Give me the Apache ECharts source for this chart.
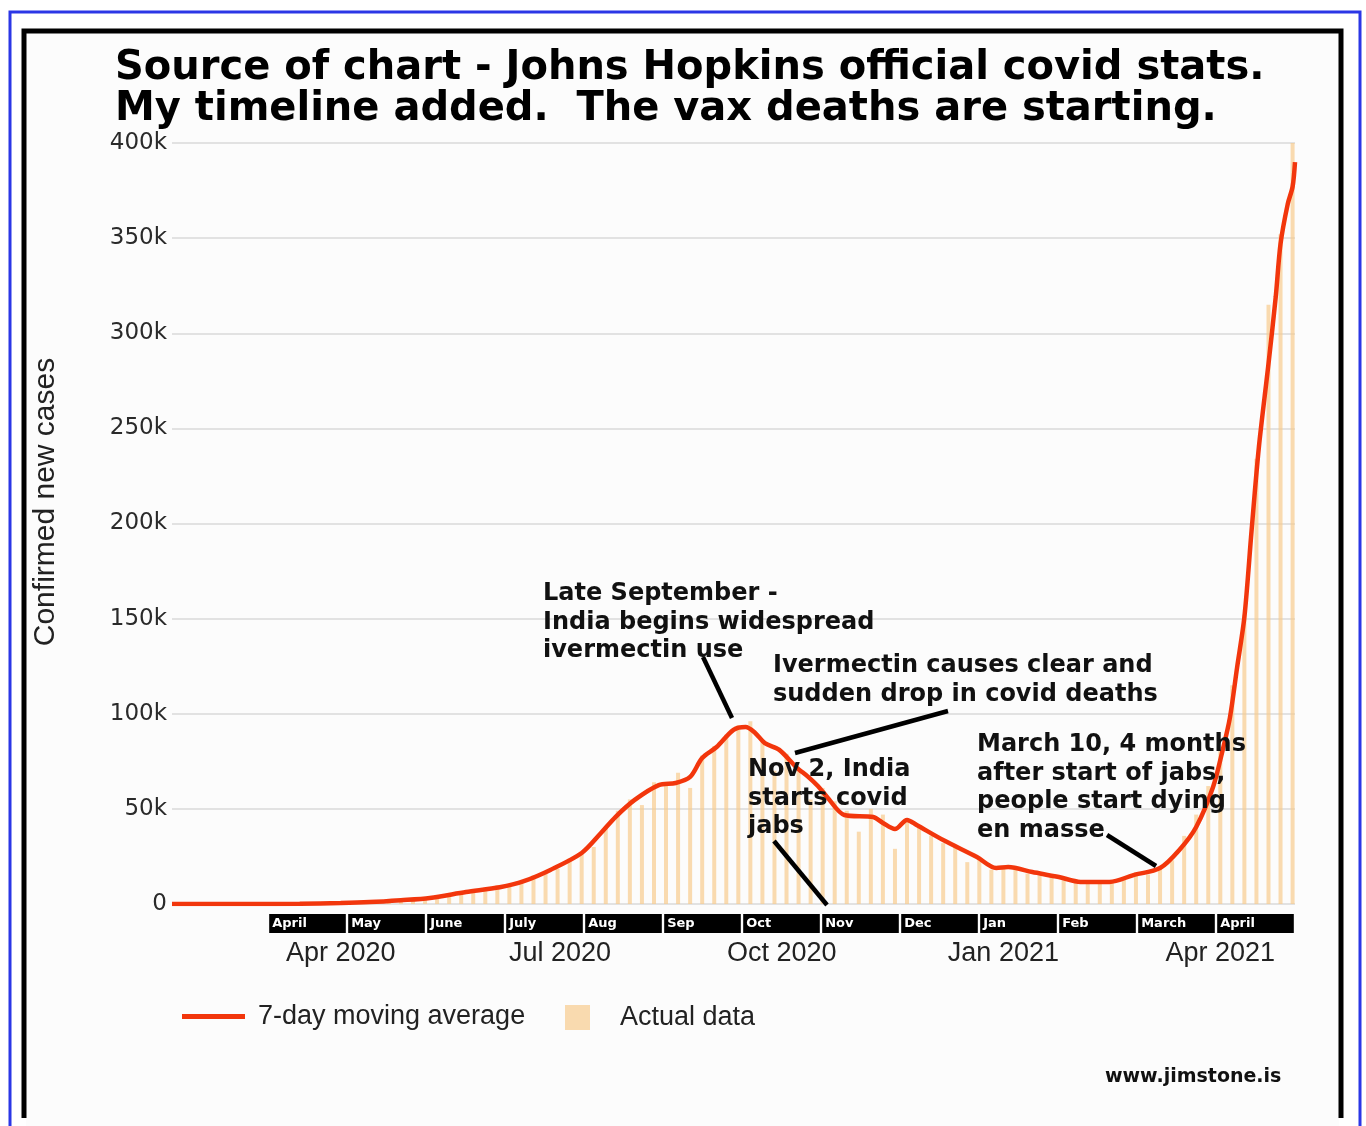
<!DOCTYPE html>
<html><head><meta charset="utf-8">
<script src="https://cdn.jsdelivr.net/npm/echarts@6/dist/echarts.min.js"></script>
<style>html,body{margin:0;padding:0;background:#fff}#c{width:1366px;height:1126px}</style>
</head><body><div id="c"></div>
<script>
// ---- data ----
const titleLines = ['Source of chart - Johns Hopkins official covid stats.', 'My timeline added.  The vax deaths are starting.'];
const seriesNames = ['7-day moving average', 'Actual data'];
const yAxisName = 'Confirmed new cases';
const xRange = ['2020-01-22', '2021-05-02'];
const xLabelDates = ['2020-04-01', '2020-07-01', '2020-10-01', '2021-01-01', '2021-04-01'];
const monthAbbr = ['Jan','Feb','Mar','Apr','May','Jun','Jul','Aug','Sep','Oct','Nov','Dec'];
const stripLabels = ['April','May','June','July','Aug','Sep','Oct','Nov','Dec','Jan','Feb','March','April'];

const maDates = ['2020-01-22','2020-02-24','2020-03-15','2020-04-01','2020-04-13','2020-04-26','2020-05-08','2020-05-23','2020-06-06','2020-06-16','2020-06-27','2020-07-10','2020-07-18','2020-07-24','2020-08-01','2020-08-11','2020-08-18','2020-08-24','2020-08-29','2020-09-04','2020-09-11','2020-09-16','2020-09-20','2020-09-24','2020-09-30','2020-10-07','2020-10-12','2020-10-16','2020-10-20','2020-10-27','2020-11-08','2020-11-12','2020-11-17','2020-11-22','2020-11-26','2020-12-07','2020-12-21','2020-12-29','2021-01-03','2021-01-13','2021-01-24','2021-02-02','2021-02-14','2021-02-24','2021-03-07','2021-03-15','2021-03-22','2021-03-29','2021-04-02','2021-04-05','2021-04-08','2021-04-11','2021-04-14','2021-04-17','2021-04-21','2021-04-24','2021-04-26','2021-04-29','2021-05-01','2021-05-02'];
const maValues = [0,0,100,500,1000,2000,3200,6300,8800,12000,17900,26800,37300,45700,54700,62500,63600,66800,76700,82500,91500,93000,89900,84600,81000,72000,66800,62000,56000,46800,45700,42600,39400,44200,41500,33600,24700,18900,19400,16800,14200,11600,11600,15200,18900,28400,40500,61500,81000,98000,124600,150800,196600,240000,284000,319000,347000,368000,377000,390000];

const barDates = ['2020-03-02','2020-03-07','2020-03-12','2020-03-17','2020-03-22','2020-03-27',
'2020-04-01','2020-04-06','2020-04-11','2020-04-16','2020-04-21','2020-04-26',
'2020-05-01','2020-05-06','2020-05-11','2020-05-16','2020-05-21','2020-05-26','2020-05-31',
'2020-06-05','2020-06-10','2020-06-15','2020-06-20','2020-06-25','2020-06-30',
'2020-07-05','2020-07-10','2020-07-15','2020-07-20','2020-07-25','2020-07-30',
'2020-08-04','2020-08-09','2020-08-14','2020-08-19','2020-08-24','2020-08-29',
'2020-09-03','2020-09-08','2020-09-13','2020-09-18','2020-09-23','2020-09-28',
'2020-10-03','2020-10-08','2020-10-13','2020-10-18','2020-10-23','2020-10-28',
'2020-11-02','2020-11-07','2020-11-12','2020-11-17','2020-11-22','2020-11-27',
'2020-12-02','2020-12-07','2020-12-12','2020-12-17','2020-12-22','2020-12-27',
'2021-01-01','2021-01-06','2021-01-11','2021-01-16','2021-01-21','2021-01-26','2021-01-31',
'2021-02-05','2021-02-10','2021-02-15','2021-02-20','2021-02-25',
'2021-03-02','2021-03-07','2021-03-12','2021-03-17','2021-03-22','2021-03-27',
'2021-04-01','2021-04-06','2021-04-11','2021-04-16','2021-04-21','2021-04-26','2021-05-01'];
const barValues = [0,10,20,30,100,150,
600,700,1000,1100,1500,1900,
2400,3500,3600,4900,5600,6500,8400,
9800,10000,11500,15000,17000,18500,
24000,27000,30000,40000,49000,55000,
52000,64000,64000,69000,61000,78000,
83000,89000,94000,96000,86000,70000,
79000,70000,55000,61000,54000,49000,
38000,50000,47000,29000,45000,41000,
36000,32000,30000,22000,24000,18000,
19000,20000,16000,15000,14500,12500,13000,
12400,11000,11600,13900,16700,
15500,18700,23000,35800,47000,62000,
81000,115000,152000,234000,315000,352000,402000];

const annotationTexts = [
  'Late September -\nIndia begins widespread\nivermectin use',
  'Ivermectin causes clear and\nsudden drop in covid deaths',
  'Nov 2, India\nstarts covid\njabs',
  'March 10, 4 months\nafter start of jabs,\npeople start dying\nen masse'
];
const watermark = 'www.jimstone.is';

// ---- helpers ----
function t(s){const p=s.split('-').map(Number);return new Date(p[0],p[1]-1,p[2]).getTime();}

const chart = echarts.init(document.getElementById('c'), null, {renderer:'canvas'});
const annFont = 'bold 24px "DejaVu Sans"';
const annPos = [[543,580],[773,652],[748,756],[977,731]];
const annLines = [[[703,657],[732,718]],[[795,753],[948,711]],[[774,841],[827,905]],[[1107,835],[1156,866]]];

const graphics = [
  {type:'rect', z:-100, silent:true, shape:{x:0,y:0,width:1366,height:1126}, style:{fill:'#ffffff'}},
  {type:'rect', z:-99, silent:true, shape:{x:26,y:33,width:1313,height:1093}, style:{fill:'#fcfcfc'}},
  {type:'rect', z:50, silent:true, shape:{x:10,y:12,width:1350,height:1130}, style:{fill:null, stroke:'#2b36e6', lineWidth:3}},
  {type:'polyline', z:50, silent:true, shape:{points:[[24,1118],[24,31],[1341,31],[1341,1118]]}, style:{fill:null, stroke:'#000', lineWidth:5}},
  {type:'text', z:60, x:1105, y:1068, style:{text:watermark, font:'bold 19px "DejaVu Sans"', fill:'#111'}},
  {type:'text', z:60, x:46, y:502, rotation:Math.PI/2, style:{text:yAxisName, font:'30px "Liberation Sans"', fill:'#222', align:'center', verticalAlign:'middle'}}
];
annotationTexts.forEach((txt,i)=>{
  graphics.push({type:'text', z:60, x:annPos[i][0], y:annPos[i][1], style:{text:txt, font:annFont, fill:'#111', lineHeight:28.5}});
  graphics.push({type:'line', z:60, shape:{x1:annLines[i][0][0], y1:annLines[i][0][1], x2:annLines[i][1][0], y2:annLines[i][1][1]}, style:{stroke:'#000', lineWidth:4.5}});
});

const option = {
  animation:false,
  backgroundColor:'#ffffff',
  title:{text:titleLines.join('\n'), left:110, top:43, textStyle:{fontFamily:'DejaVu Sans', fontWeight:'bold', fontSize:40, lineHeight:41, color:'#000'}},
  legend:[
    {data:[{name:seriesNames[0], icon:'path://M0,0H63V5H0Z'}], left:182, top:1003, padding:0, itemWidth:63, itemHeight:26,
     textStyle:{fontFamily:'Liberation Sans', fontSize:27, color:'#222', padding:[0,0,0,8]}},
    {data:[seriesNames[1]], left:565, top:1004, padding:0, itemWidth:25, itemHeight:25, icon:'rect',
     textStyle:{fontFamily:'Liberation Sans', fontSize:27, color:'#222', padding:[0,0,0,25]}}
  ],
  grid:[
    {left:172, right:71, top:143, bottom:222, containLabel:false},
    {left:268, right:71, top:914, height:19, containLabel:false}
  ],
  xAxis:[
    {type:'value', gridIndex:0, min:t(xRange[0]), max:t(xRange[1]), scale:true,
     axisLine:{show:false}, axisTick:{show:false}, splitLine:{show:false},
     axisLabel:{customValues:xLabelDates.map(t), hideOverlap:false, margin:36, fontFamily:'Liberation Sans', fontSize:27, color:'#222',
       formatter:function(v){const d=new Date(v);return monthAbbr[d.getMonth()]+' '+d.getFullYear();}}},
    {type:'category', gridIndex:1, data:stripLabels.map((s,i)=>i), show:false}
  ],
  yAxis:[
    {type:'value', gridIndex:0, min:0, max:400000, interval:50000,
     axisLine:{show:false}, axisTick:{show:false},
     axisLabel:{margin:5, fontFamily:'DejaVu Sans', fontSize:23, color:'#2a2a2a', formatter:v=>v===0?'0':(v/1000)+'k'},
     splitLine:{lineStyle:{color:'#e2e2e2', width:2}}},
    {type:'value', gridIndex:1, min:0, max:1, show:false}
  ],
  series:[
    {name:seriesNames[1], type:'bar', xAxisIndex:0, yAxisIndex:0, barWidth:4, z:2,
     itemStyle:{color:'#f8cc8f', opacity:0.7},
     data:barDates.map((d,i)=>[t(d), barValues[i]])},
    {name:seriesNames[0], type:'line', xAxisIndex:0, yAxisIndex:0, symbol:'none', smooth:0.3, z:5,
     lineStyle:{color:'#f2360c', width:4.5}, itemStyle:{color:'#f2360c'},
     data:maDates.map((d,i)=>[t(d), maValues[i]])},
    {name:'strip', type:'bar', xAxisIndex:1, yAxisIndex:1, barCategoryGap:'3%', silent:true,
     itemStyle:{color:'#000'},
     label:{show:true, position:'insideLeft', distance:3, color:'#fff', fontFamily:'DejaVu Sans', fontWeight:'bold', fontSize:13,
       formatter:p=>stripLabels[p.dataIndex]},
     data:stripLabels.map(()=>1)}
  ],
  graphic:graphics
};
chart.setOption(option);
</script>
</body></html>
